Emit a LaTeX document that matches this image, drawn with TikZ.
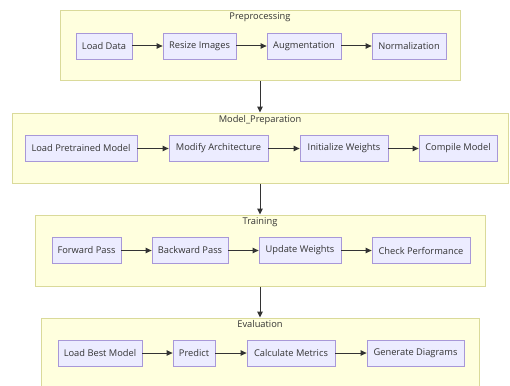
\documentclass[tikz,border=0pt]{standalone}
\usepackage{fontspec}
\setmainfont{Open Sans}
\usetikzlibrary{arrows.meta}
\definecolor{clfill}{HTML}{FFFFDE}
\definecolor{cldraw}{HTML}{DADA9A}
\definecolor{ndfill}{HTML}{ECECFF}
\definecolor{nddraw}{HTML}{A898D8}
\definecolor{txt}{HTML}{333333}
\tikzset{
  cluster/.style={draw=cldraw, fill=clfill, line width=1pt, inner sep=0pt},
  ctitle/.style={text=txt, font=\fontsize{9.3}{11}\selectfont, inner sep=0pt},
  proc/.style={draw=nddraw, fill=ndfill, line width=0.8pt, text=txt, font=\fontsize{9.3}{11}\selectfont, inner sep=0pt, minimum height=26pt},
  flow/.style={draw=txt, line width=1pt, -{Triangle[length=6pt,width=5.5pt]}}
}
\begin{document}
\begin{tikzpicture}[x=1pt,y=-1pt]
\useasboundingbox (0,0) rectangle (510,385);
\clip (0,0) rectangle (510,385);
% clusters
\node[cluster, minimum width=400pt, minimum height=70pt] (pre) at (260,46) {};
\node[cluster, minimum width=496pt, minimum height=70pt] (mp) at (260,148) {};
\node[cluster, minimum width=450pt, minimum height=71pt] (tr) at (260,250.5) {};
\node[cluster, minimum width=438pt, minimum height=80pt] (ev) at (260,358) {};
\node[ctitle] (tpre) at (260,17.5) {Preprocessing};
\node[ctitle] (tmp) at (260,120) {Model\_Preparation};
\node[ctitle] (ttr) at (260,222) {Training};
\node[ctitle] (tev) at (260,324) {Evaluation};
% row 1
\node[proc, minimum width=56pt] (ld) at (104,46) {Load Data};
\node[proc, minimum width=73pt] (ri) at (199.5,46) {Resize Images};
\node[proc, minimum width=74pt] (au) at (304,46) {Augmentation};
\node[proc, minimum width=74pt] (no) at (409,46) {Normalization};
% row 2
\node[proc, minimum width=112pt] (lpm) at (81,148.5) {Load Pretrained Model};
\node[proc, minimum width=99pt] (ma) at (218.5,148.5) {Modify Architecture};
\node[proc, minimum width=88pt] (iw) at (344,148.5) {Initialize Weights};
\node[proc, minimum width=78pt] (cm) at (458,148.5) {Compile Model};
% row 3
\node[proc, minimum width=69pt] (fp) at (86.5,250.5) {Forward Pass};
\node[proc, minimum width=76pt] (bp) at (190,250.5) {Backward Pass};
\node[proc, minimum width=82pt] (uw) at (300,250.5) {Update Weights};
\node[proc, minimum width=98pt] (cp) at (421,250.5) {Check Performance};
% row 4
\node[proc, minimum width=84pt] (lbm) at (100,353) {Load Best Model};
\node[proc, minimum width=42pt] (pr) at (194,353) {Predict};
\node[proc, minimum width=88pt] (cmx) at (291,353) {Calculate Metrics};
\node[proc, minimum width=97pt] (gd) at (415.5,353) {Generate Diagrams};
% connectors
\draw[flow] (ld) -- (ri);
\draw[flow] (ri) -- (au);
\draw[flow] (au) -- (no);
\draw[flow] (lpm) -- (ma);
\draw[flow] (ma) -- (iw);
\draw[flow] (iw) -- (cm);
\draw[flow] (fp) -- (bp);
\draw[flow] (bp) -- (uw);
\draw[flow] (uw) -- (cp);
\draw[flow] (lbm) -- (pr);
\draw[flow] (pr) -- (cmx);
\draw[flow] (cmx) -- (gd);
\draw[flow] (pre.south) -- (mp.north);
\draw[flow] (mp.south) -- (tr.north);
\draw[flow] (tr.south) -- (ev.north);
\end{tikzpicture}
\end{document}
